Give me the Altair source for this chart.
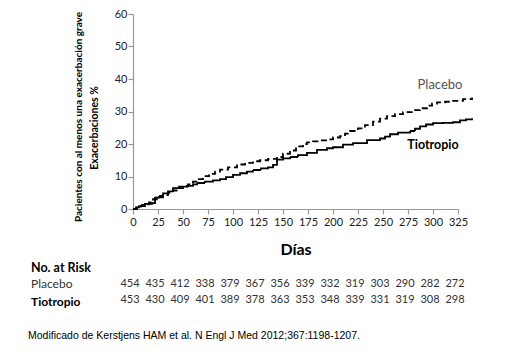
import altair as alt
import pandas as pd

# Kaplan-Meier style cumulative incidence
tio_days = [0, 3, 6, 9, 12, 19, 22, 26, 30, 35, 40, 46, 54, 60, 64, 72, 80, 87, 93, 100,
            107, 114, 120, 128, 135, 140, 144, 150, 157, 165, 174, 184, 194, 200, 210, 220,
            234, 247, 252, 257, 265, 277, 282, 287, 293, 300, 310, 320, 327, 333, 339]
tio_vals = [0, 0.5, 0.9, 1.3, 1.6, 1.8, 3.5, 4.0, 4.8, 5.4, 6.4, 6.9, 7.1, 7.6, 8.0, 8.4, 8.8, 9.2, 9.8, 10.5,
            11.0, 11.5, 12.0, 12.5, 12.8, 13.6, 15.2, 15.6, 16.0, 16.6, 17.3, 18.2, 18.7, 19.0, 19.8, 20.3,
            21.2, 21.7, 22.3, 23.0, 23.5, 24.0, 24.7, 25.4, 26.0, 26.4, 26.5, 26.7, 27.3, 27.6, 27.9]

pla_days = [0, 4, 8, 12, 16, 20, 25, 30, 35, 40, 45, 50, 55, 60, 65, 70, 76, 82, 87, 95, 104,
            112, 120, 127, 135, 144, 150, 157, 163, 170, 174, 180, 187, 194, 200, 207, 212, 217,
            225, 232, 240, 247, 254, 262, 270, 280, 287, 294, 299, 304, 312, 320, 330, 339]
pla_vals = [0, 0.4, 0.9, 1.4, 2.0, 3.0, 3.6, 4.3, 5.0, 5.7, 6.4, 7.0, 7.6, 8.4, 9.2, 10.1, 10.8, 11.5, 12.1, 12.8, 13.7,
            14.2, 14.7, 15.0, 15.4, 16.0, 17.0, 18.0, 19.3, 20.0, 20.5, 20.8, 21.1, 21.4, 22.0, 22.4, 23.2, 24.0,
            24.8, 25.8, 26.9, 27.8, 28.6, 29.2, 29.8, 30.4, 31.0, 31.8, 32.4, 32.8, 33.0, 33.3, 33.8, 34.3]

risk_days = [0, 25, 50, 75, 100, 125, 150, 175, 200, 225, 250, 275, 300, 325]
risk_placebo = [454, 435, 412, 338, 379, 367, 356, 339, 332, 319, 303, 290, 282, 272]
risk_tiotropio = [453, 430, 409, 401, 389, 378, 363, 353, 348, 339, 331, 319, 308, 298]

x_ticks = [0, 25, 50, 75, 100, 125, 150, 175, 200, 225, 250, 275, 300, 325]
y_ticks = [0, 10, 20, 30, 40, 50, 60]

curves = pd.concat([
    pd.DataFrame({"dia": tio_days, "valor": tio_vals, "serie": "Tiotropio"}),
    pd.DataFrame({"dia": pla_days, "valor": pla_vals, "serie": "Placebo"}),
])
risk_p = pd.DataFrame({"dia": risk_days, "n": risk_placebo})
risk_t = pd.DataFrame({"dia": risk_days, "n": risk_tiotropio})

TOP = 6
W, H = 325, 201 - TOP
xscale = alt.Scale(domain=[0, 325], nice=False, zero=True)
yscale = alt.Scale(domain=[0, 60], nice=False)

axis_common = dict(domainColor="#999999", tickColor="#999999", grid=False,
                   labelFont="Lato", labelFontSize=11, labelColor="#222222",
                   tickSize=5, domainWidth=1.2, tickWidth=1.2, labelOverlap=False,
                   labelFlush=False)

x_axis = alt.Axis(values=x_ticks, title="Días", titleFont="Lato", titleFontSize=16,
                  titleFontWeight="bold", titleColor="black", titlePadding=14,
                  labelPadding=2, **axis_common)

lines = alt.Chart(curves).mark_line(interpolate="step-after", color="black", strokeWidth=1.8).encode(
    x=alt.X("dia:Q", scale=xscale, axis=x_axis, title="Días"),
    y=alt.Y("valor:Q", scale=yscale,
            axis=alt.Axis(values=y_ticks, title=None, labelPadding=1, **axis_common)),
    strokeDash=alt.StrokeDash("serie:N",
                              scale=alt.Scale(domain=["Tiotropio", "Placebo"], range=[[1, 0], [6, 3.5]]),
                              legend=None),
    detail="serie:N",
)

one = pd.DataFrame({"k": [0]})


def label(text, x, y, size, weight="normal", color="black", font="Lato", angle=0, align="left"):
    return alt.Chart(one).mark_text(text=text, font=font, fontSize=size, fontWeight=weight,
                                    color=color, angle=angle, align=align, baseline="middle").encode(
        x=alt.value(x), y=alt.value(y - TOP))


lbl_placebo = label("Placebo", 307, 77, 13, color="#555555", align="center")
lbl_tio = label("Tiotropio", 300, 137, 12.5, weight="bold", align="center")

ytitle1 = label("Pacientes con al menos una exacerbación grave", -54, 109, 10, weight="bold",
                angle=270, align="center")
ytitle2 = label("Exacerbaciones %", -38, 120, 10.5, weight="bold", angle=270, align="center")

no_risk = label("No. at Risk", -102, 260, 12.5, weight="bold")
row_p = label("Placebo", -102, 276, 12, color="#333333")
row_t = label("Tiotropio", -102, 294, 12, weight="bold")

nums_p = alt.Chart(risk_p).mark_text(font="Lato", fontSize=11, color="#333333", dx=-3).encode(
    x=alt.X("dia:Q", scale=xscale, axis=x_axis, title="Días"), y=alt.value(276 - TOP), text="n:Q")
nums_t = alt.Chart(risk_t).mark_text(font="Lato", fontSize=11, color="#333333", dx=-3).encode(
    x=alt.X("dia:Q", scale=xscale, axis=x_axis, title="Días"), y=alt.value(292 - TOP), text="n:Q")

footer = label("Modificado de Kerstjens HAM et al. N Engl J Med 2012;367:1198-1207.", -105, 328, 10.5,
               font="Liberation Sans")

chart = alt.layer(lines, lbl_placebo, lbl_tio, ytitle1, ytitle2, no_risk, row_p, row_t,
                  nums_p, nums_t, footer).properties(
    width=W, height=H,
    autosize=alt.AutoSizeParams(type="none"),
    padding={"left": 125, "top": TOP, "right": 40, "bottom": 140},
).configure_view(stroke=None)

chart.save("out.html", embed_options={"renderer": "svg", "actions": False})
